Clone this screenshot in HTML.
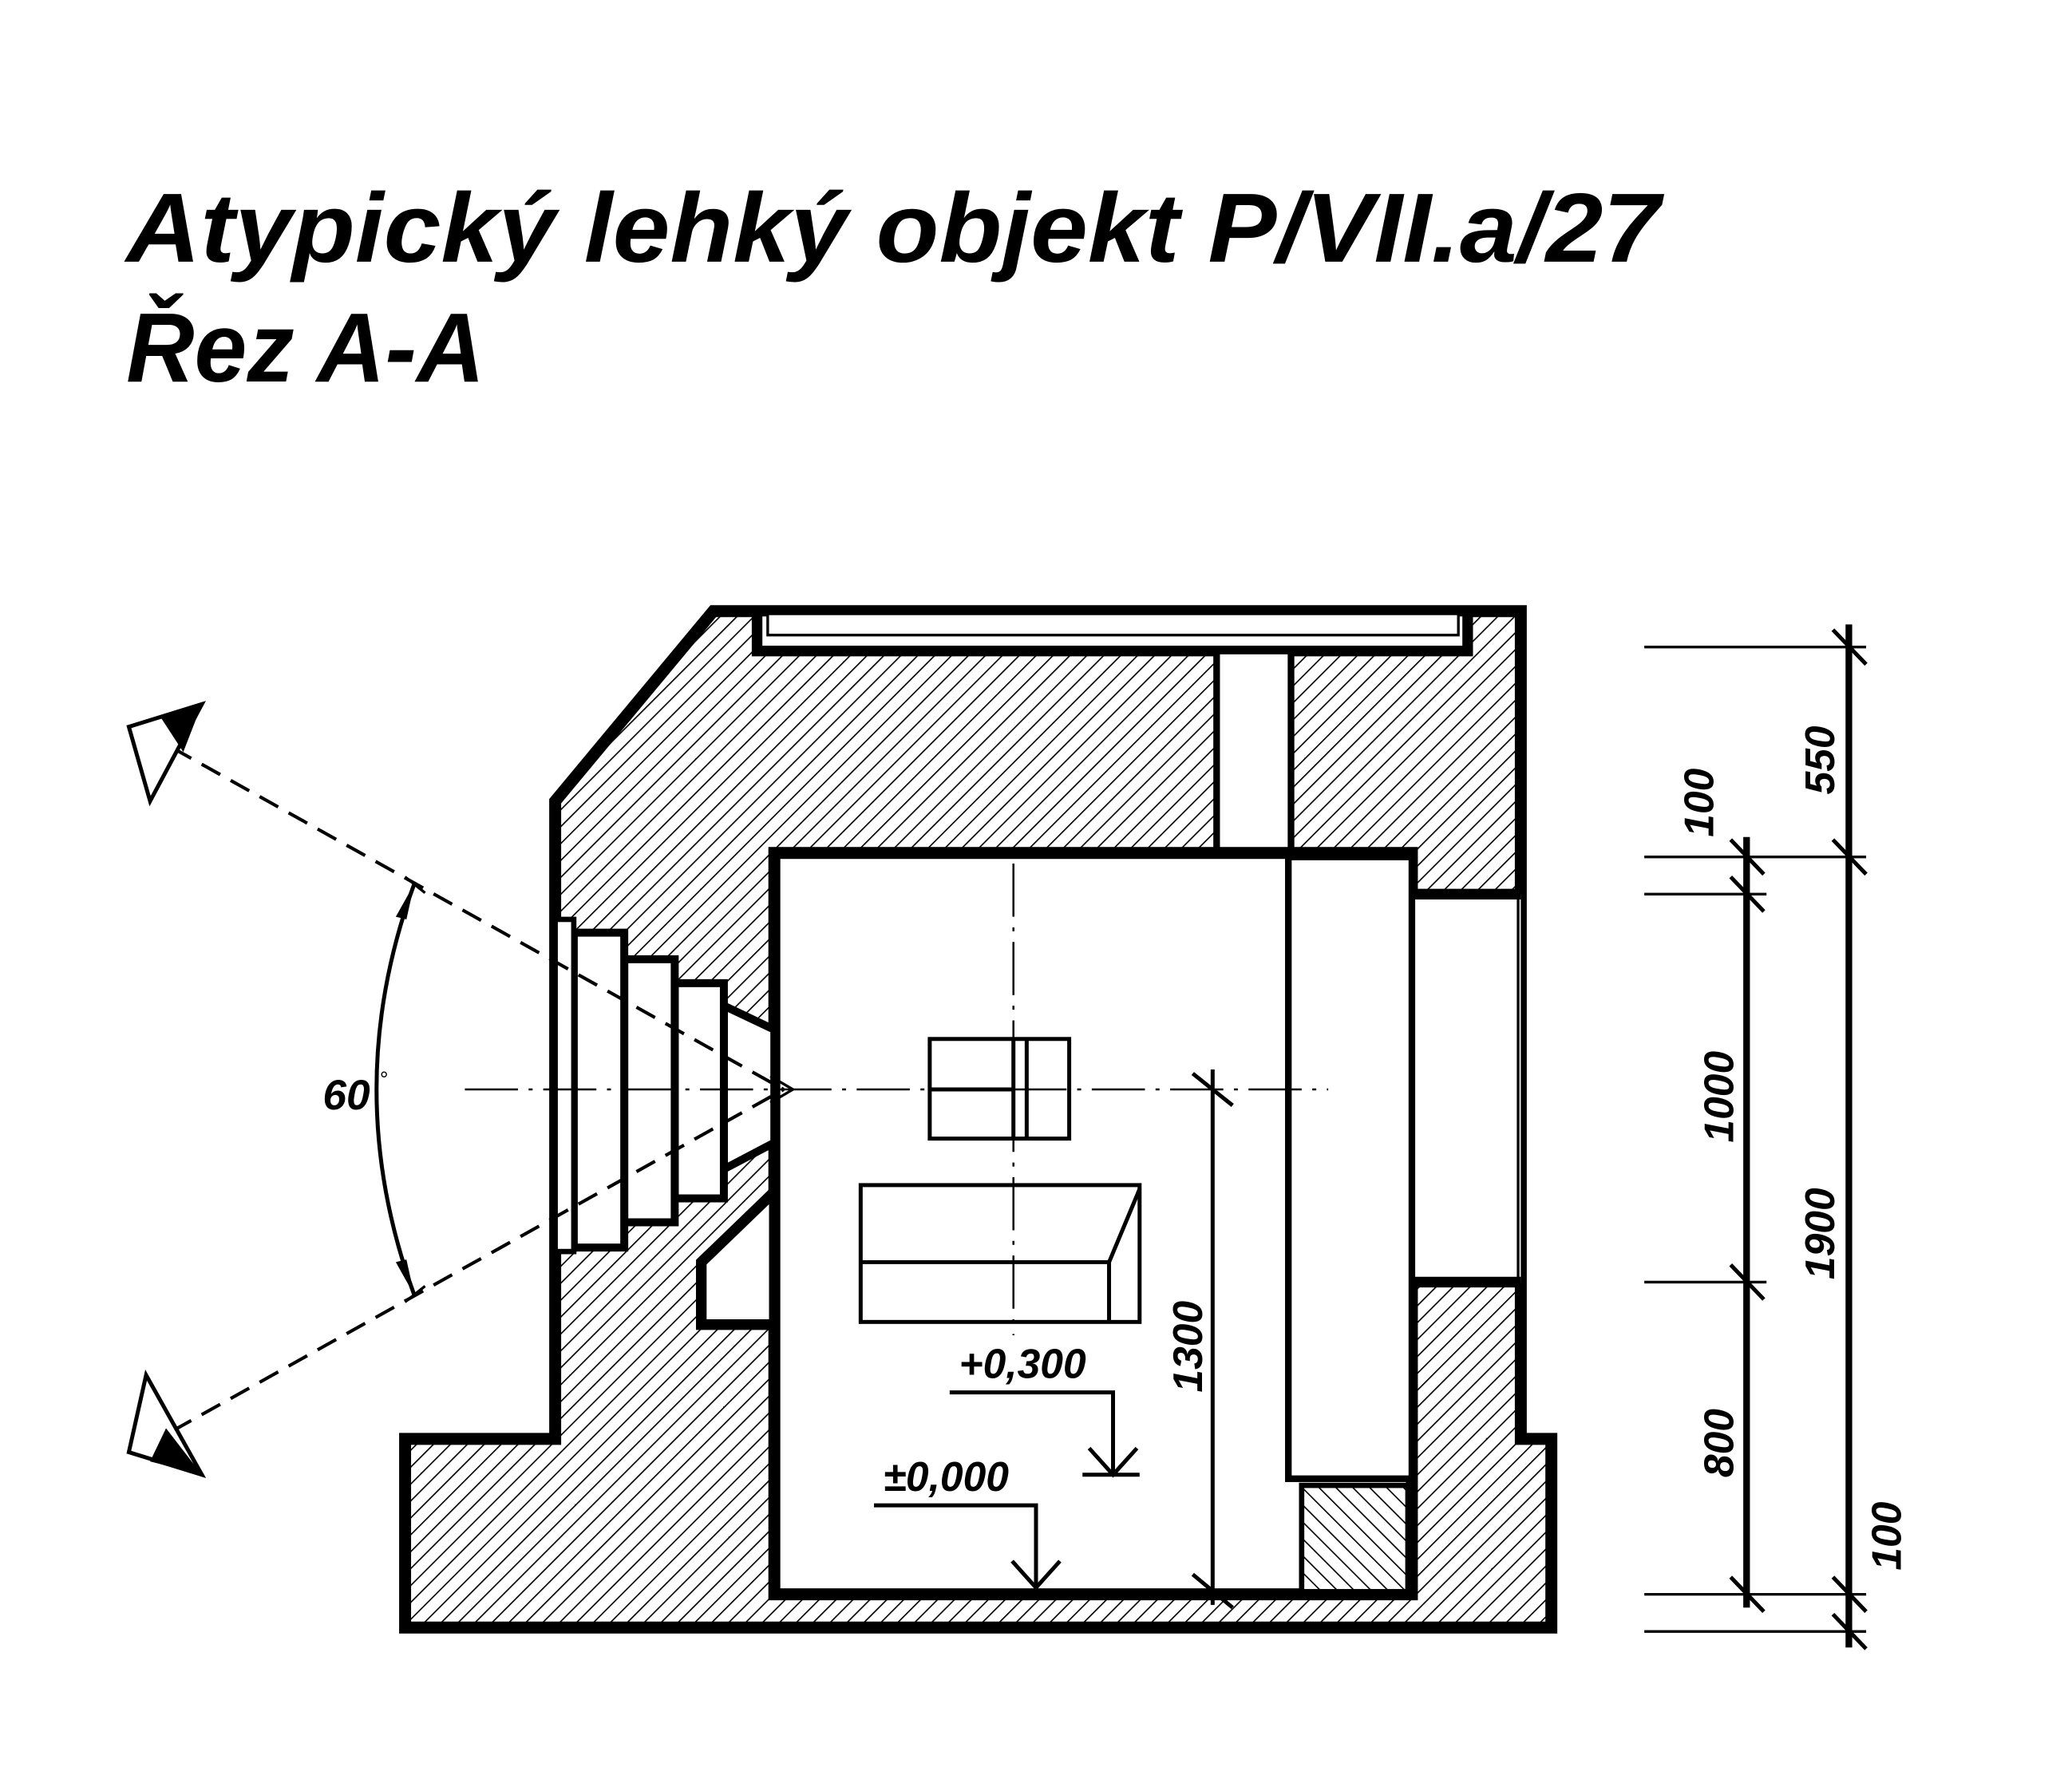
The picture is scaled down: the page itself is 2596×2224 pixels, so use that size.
<!DOCTYPE html>
<html><head><meta charset="utf-8"><style>html,body{margin:0;padding:0;background:#fff}svg{display:block}</style></head>
<body>
<svg width="2596" height="2224" viewBox="0 0 1560 1336" preserveAspectRatio="none" xmlns="http://www.w3.org/2000/svg">
<defs>
<pattern id="h" width="9" height="9" patternUnits="userSpaceOnUse" patternTransform="rotate(45)">
<rect width="9" height="9" fill="#fff"/><line x1="0" y1="0" x2="0" y2="9" stroke="#000" stroke-width="2"/></pattern>
<pattern id="h2" width="9" height="9" patternUnits="userSpaceOnUse" patternTransform="rotate(-45)">
<rect width="9" height="9" fill="#fff"/><line x1="0" y1="0" x2="0" y2="9" stroke="#000" stroke-width="2"/></pattern>
</defs>
<g font-family="Liberation Sans, sans-serif" font-style="italic" font-weight="bold" fill="#000">
<text x="95" y="197" font-size="74" textLength="1155" lengthAdjust="spacingAndGlyphs">Atypický lehký objekt P/VII.a/27</text>
<text x="95" y="287" font-size="74" textLength="270" lengthAdjust="spacingAndGlyphs">Řez A-A</text>
</g>
<!-- main structure -->
<polygon points="537,460 1145,460 1145,1083 1168,1083 1168,1225 305,1225 305,1083 418,1083 418,603" fill="url(#h)" stroke="#000" stroke-width="9" stroke-linejoin="miter"/>
<polygon points="570,460 570,490 1105,490 1105,460" fill="#fff" stroke="#000" stroke-width="8"/>
<rect x="578" y="462" width="520" height="16" fill="#fff" stroke="#000" stroke-width="2"/>
<rect x="916" y="490" width="56" height="710" fill="#fff" stroke="#000" stroke-width="5"/>
<rect x="583" y="642" width="480" height="558" fill="#fff" stroke="#000" stroke-width="9"/>
<rect x="1063" y="673" width="82" height="292" fill="#fff"/>
<line x1="1060" y1="673" x2="1145" y2="673" stroke="#000" stroke-width="8"/>
<line x1="1060" y1="965" x2="1145" y2="965" stroke="#000" stroke-width="8"/>
<line x1="1143" y1="673" x2="1143" y2="965" stroke="#000" stroke-width="2"/>
<rect x="970" y="645" width="93" height="468" fill="#fff" stroke="#000" stroke-width="5"/>
<rect x="980" y="1118" width="80" height="80" fill="url(#h2)" stroke="#000" stroke-width="4"/>
<line x1="972" y1="1200" x2="1065" y2="1200" stroke="#000" stroke-width="8"/>
<!-- niche -->
<polygon points="528,950 583,897 583,997 528,997" fill="#fff" stroke="#000" stroke-width="8"/>
<!-- embrasure -->
<polygon points="545,757 583,775 583,860 545,880" fill="#fff" stroke="#000" stroke-width="6"/>
<rect x="508" y="740" width="37" height="162" fill="#fff" stroke="#000" stroke-width="6"/>
<rect x="470" y="722" width="38" height="198" fill="#fff" stroke="#000" stroke-width="6"/>
<rect x="432" y="702" width="38" height="237" fill="#fff" stroke="#000" stroke-width="6"/>
<rect x="418" y="692" width="14" height="250" fill="#fff" stroke="#000" stroke-width="4"/>
<!-- sight lines -->
<g stroke="#000" stroke-width="2.5" fill="none" stroke-dasharray="16,9">
<line x1="130" y1="563" x2="590" y2="820"/>
<line x1="130" y1="1077" x2="590" y2="820"/>
</g>
<g stroke="#000" stroke-width="1.5" stroke-dasharray="40,8,3,8" fill="none">
<line x1="350" y1="820" x2="1000" y2="820"/>
<line x1="763" y1="650" x2="763" y2="1005"/>
</g>
<polyline points="580,810 597,820 580,830" fill="none" stroke="#000" stroke-width="2"/>
<!-- arrows -->
<polygon points="97,547 152,530 113,603" fill="#fff" stroke="#000" stroke-width="3"/>
<polygon points="121,540 152,530 138,566" fill="#000"/>
<polygon points="110,1035 97,1093 152,1110" fill="#fff" stroke="#000" stroke-width="3"/>
<polygon points="125,1075 152,1110 113,1100" fill="#000"/>
<!-- 60 deg arc -->
<path d="M312,665 Q255,820 312,975" fill="none" stroke="#000" stroke-width="3"/>
<polygon points="312,665 298,690 306,692" fill="#000"/>
<polygon points="312,975 298,950 306,948" fill="#000"/>
<line x1="305" y1="660" x2="320" y2="672" stroke="#000" stroke-width="2"/>
<line x1="305" y1="980" x2="320" y2="968" stroke="#000" stroke-width="2"/>
<text x="243" y="835" font-family="Liberation Sans, sans-serif" font-style="italic" font-weight="bold" font-size="32">60</text>
<text x="286" y="818" font-family="Liberation Sans, sans-serif" font-size="16">°</text>
<!-- furniture -->
<g fill="none" stroke="#000" stroke-width="3">
<rect x="700" y="782" width="105" height="75"/>
<line x1="763" y1="782" x2="763" y2="857"/>
<line x1="773" y1="782" x2="773" y2="857"/>
<line x1="700" y1="820" x2="763" y2="820"/>
<rect x="648" y="892" width="210" height="103"/>
<line x1="648" y1="950" x2="835" y2="950"/>
<line x1="835" y1="950" x2="858" y2="895"/>
<line x1="835" y1="950" x2="835" y2="995"/>
</g>
<!-- levels -->
<g font-family="Liberation Sans, sans-serif" font-style="italic" font-weight="bold" font-size="31" fill="#000">
<text x="722" y="1037">+0,300</text>
<text x="665" y="1122">±0,000</text>
</g>
<g fill="none" stroke="#000" stroke-width="3">
<polyline points="715,1048 838,1048 838,1110"/>
<polyline points="820,1090 838,1110 856,1090"/>
<line x1="815" y1="1110" x2="858" y2="1110"/>
<polyline points="658,1133 780,1133 780,1195"/>
<polyline points="762,1175 780,1195 798,1175"/>
<line x1="913" y1="805" x2="913" y2="1208"/>
<line x1="898" y1="808" x2="928" y2="832"/>
<line x1="898" y1="1185" x2="928" y2="1210"/>
</g>
<text transform="translate(905,1048) rotate(-90)" font-family="Liberation Sans, sans-serif" font-style="italic" font-weight="bold" font-size="31">1300</text>
<!-- right dims -->
<g stroke="#000" fill="none">
<g stroke-width="2">
<line x1="1238" y1="487" x2="1405" y2="487"/>
<line x1="1238" y1="645" x2="1405" y2="645"/>
<line x1="1238" y1="673" x2="1330" y2="673"/>
<line x1="1238" y1="965" x2="1330" y2="965"/>
<line x1="1238" y1="1200" x2="1405" y2="1200"/>
<line x1="1238" y1="1228" x2="1405" y2="1228"/>
</g>
<line x1="1315" y1="630" x2="1315" y2="1210" stroke-width="5"/>
<line x1="1392" y1="470" x2="1392" y2="1240" stroke-width="5"/>
<g stroke-width="3">
<line x1="1380" y1="474" x2="1405" y2="500"/>
<line x1="1380" y1="632" x2="1405" y2="658"/>
<line x1="1303" y1="632" x2="1328" y2="658"/>
<line x1="1303" y1="660" x2="1328" y2="686"/>
<line x1="1303" y1="952" x2="1328" y2="978"/>
<line x1="1303" y1="1187" x2="1328" y2="1213"/>
<line x1="1380" y1="1187" x2="1405" y2="1213"/>
<line x1="1380" y1="1215" x2="1405" y2="1241"/>
</g>
</g>
<g font-family="Liberation Sans, sans-serif" font-style="italic" font-weight="bold" font-size="31" fill="#000">
<text transform="translate(1290,630) rotate(-90)">100</text>
<text transform="translate(1381,598) rotate(-90)">550</text>
<text transform="translate(1305,860) rotate(-90)">1000</text>
<text transform="translate(1381,963) rotate(-90)">1900</text>
<text transform="translate(1305,1112) rotate(-90)">800</text>
<text transform="translate(1431,1182) rotate(-90)">100</text>
</g>
</svg>
</body></html>
